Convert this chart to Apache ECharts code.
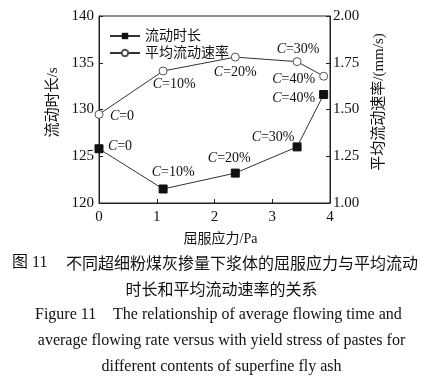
<!DOCTYPE html>
<html><head><meta charset="utf-8">
<script src="https://cdn.jsdelivr.net/npm/echarts@6/dist/echarts.min.js"></script>
<style>html,body{margin:0;padding:0;background:#fff}#c{width:443px;height:381px}</style>
</head><body><div id="c"></div>
<script>
// Data
var yieldStress = [0, 1.11, 2.36, 3.43, 3.89];
var flowTime = [125.8, 121.5, 123.2, 126.0, 131.6];
var flowRate = [1.474, 1.706, 1.78, 1.756, 1.678];
var contentLabels = ['0', '10%', '20%', '30%', '40%'];
var xTicks = [0, 1, 2, 3, 4];
var leftTicks = [120, 125, 130, 135, 140];
var rightTicks = [1.00, 1.25, 1.50, 1.75, 2.00];
var seriesNames = ['流动时长', '平均流动速率'];

// label offsets (styling)
var timeOffsets = [[21,-2],[10,-17],[-6,-15],[-24,-10],[-30,4]];
var rateOffsets = [[23,2],[11,13],[0,15],[1,-12],[-30,3]];

var serif = 'Liberation Serif, "Noto Sans CJK SC", serif';
var labelRich = {i:{fontStyle:'italic', fontFamily: serif, fontSize: 14, color:'#111'}};

function buildData(ys, offs) {
  return yieldStress.map(function (x, k) {
    return {
      value: [x, ys[k]],
      label: {
        show: true, position: 'inside', offset: offs[k],
        formatter: '{i|C}=' + contentLabels[k],
        fontFamily: serif, fontSize: 14, color: '#111', rich: labelRich
      }
    };
  });
}

var chart = echarts.init(document.getElementById('c'), null, {renderer: 'canvas'});
var axisLineStyle = {color: '#222', width: 1};
var cjk = '"Noto Sans CJK SC"';
chart.setOption({
  animation: false,
  backgroundColor: '#fff',
  grid: {left: 99, right: 113, top: 16, bottom: 178, show: true, borderColor: '#222', borderWidth: 1, backgroundColor: 'transparent'},
  legend: {
    left: 104, top: 24, orient: 'vertical', itemWidth: 30, itemHeight: 8, itemGap: 3,
    data: seriesNames,
    textStyle: {fontFamily: serif, fontSize: 14, color: '#111'}
  },
  xAxis: {
    type: 'value', min: xTicks[0], max: xTicks[xTicks.length-1], interval: 1,
    name: '屈服应力/Pa', nameLocation: 'middle', nameGap: 29,
    nameTextStyle: {fontFamily: serif, fontSize: 14, color: '#111', padding: [0,0,0,12]},
    axisLine: {lineStyle: axisLineStyle},
    axisTick: {inside: true, length: 4, lineStyle: axisLineStyle},
    axisLabel: {fontFamily: serif, fontSize: 15, color: '#111', margin: 7},
    splitLine: {show: false}
  },
  yAxis: [{
    type: 'value', min: leftTicks[0], max: leftTicks[leftTicks.length-1], interval: 5,
    name: '流动时长/s', nameLocation: 'middle', nameGap: 38, nameRotate: 90,
    nameTextStyle: {fontFamily: serif, fontSize: 15, color: '#111', padding: [0,0,0,14]},
    axisLine: {show: true, lineStyle: axisLineStyle},
    axisTick: {show: true, inside: true, length: 4, lineStyle: axisLineStyle},
    axisLabel: {fontFamily: serif, fontSize: 15, color: '#111', margin: 5},
    splitLine: {show: false}
  }, {
    type: 'value', position: 'right', min: rightTicks[0], max: rightTicks[rightTicks.length-1], interval: 0.25,
    name: '平均流动速率/(mm/s)', nameLocation: 'middle', nameGap: 42, nameRotate: 90,
    nameTextStyle: {fontFamily: serif, fontSize: 15, color: '#111', padding: [0,0,0,15]},
    axisLine: {show: true, lineStyle: axisLineStyle},
    axisTick: {show: true, inside: true, length: 4, lineStyle: axisLineStyle},
    axisLabel: {fontFamily: serif, fontSize: 15, color: '#111', margin: 3, formatter: function(v){return v.toFixed(2);}},
    splitLine: {show: false}
  }],
  series: [{
    name: seriesNames[0], type: 'line', yAxisIndex: 0,
    data: buildData(flowTime, timeOffsets),
    symbol: 'rect', symbolSize: 8,
    itemStyle: {color: '#111', borderColor: '#111'},
    lineStyle: {color: '#333', width: 1}
  }, {
    name: seriesNames[1], type: 'line', yAxisIndex: 1,
    data: buildData(flowRate, rateOffsets),
    symbol: 'circle', symbolSize: 8,
    itemStyle: {color: '#fff', borderColor: '#555', borderWidth: 1},
    lineStyle: {color: '#333', width: 1}
  }],
  graphic: [
    {type: 'text', left: 12, top: 255, style: {text: '图 11', fontSize: 16, fontFamily: 'Liberation Serif, ' + cjk, fill: '#111'}},
    {type: 'text', left: 66, top: 255, style: {text: '不同超细粉煤灰掺量下浆体的屈服应力与平均流动', fontSize: 16, fontFamily: cjk, fill: '#111'}},
    {type: 'text', left: 'center', top: 281, style: {text: '时长和平均流动速率的关系', fontSize: 16, fontFamily: cjk, fill: '#111'}},
    {type: 'text', left: 35, top: 307, style: {text: 'Figure 11', fontSize: 16, fontFamily: 'Liberation Serif', fill: '#111'}},
    {type: 'text', left: 113, top: 307, style: {text: 'The relationship of average flowing time and', fontSize: 16, fontFamily: 'Liberation Serif', fill: '#111'}},
    {type: 'text', left: 'center', top: 333, style: {text: 'average flowing rate versus with yield stress of pastes for', fontSize: 16, fontFamily: 'Liberation Serif', fill: '#111'}},
    {type: 'text', left: 'center', top: 359, style: {text: 'different contents of superfine fly ash', fontSize: 16, fontFamily: 'Liberation Serif', fill: '#111'}}
  ]
});
</script></body></html>
